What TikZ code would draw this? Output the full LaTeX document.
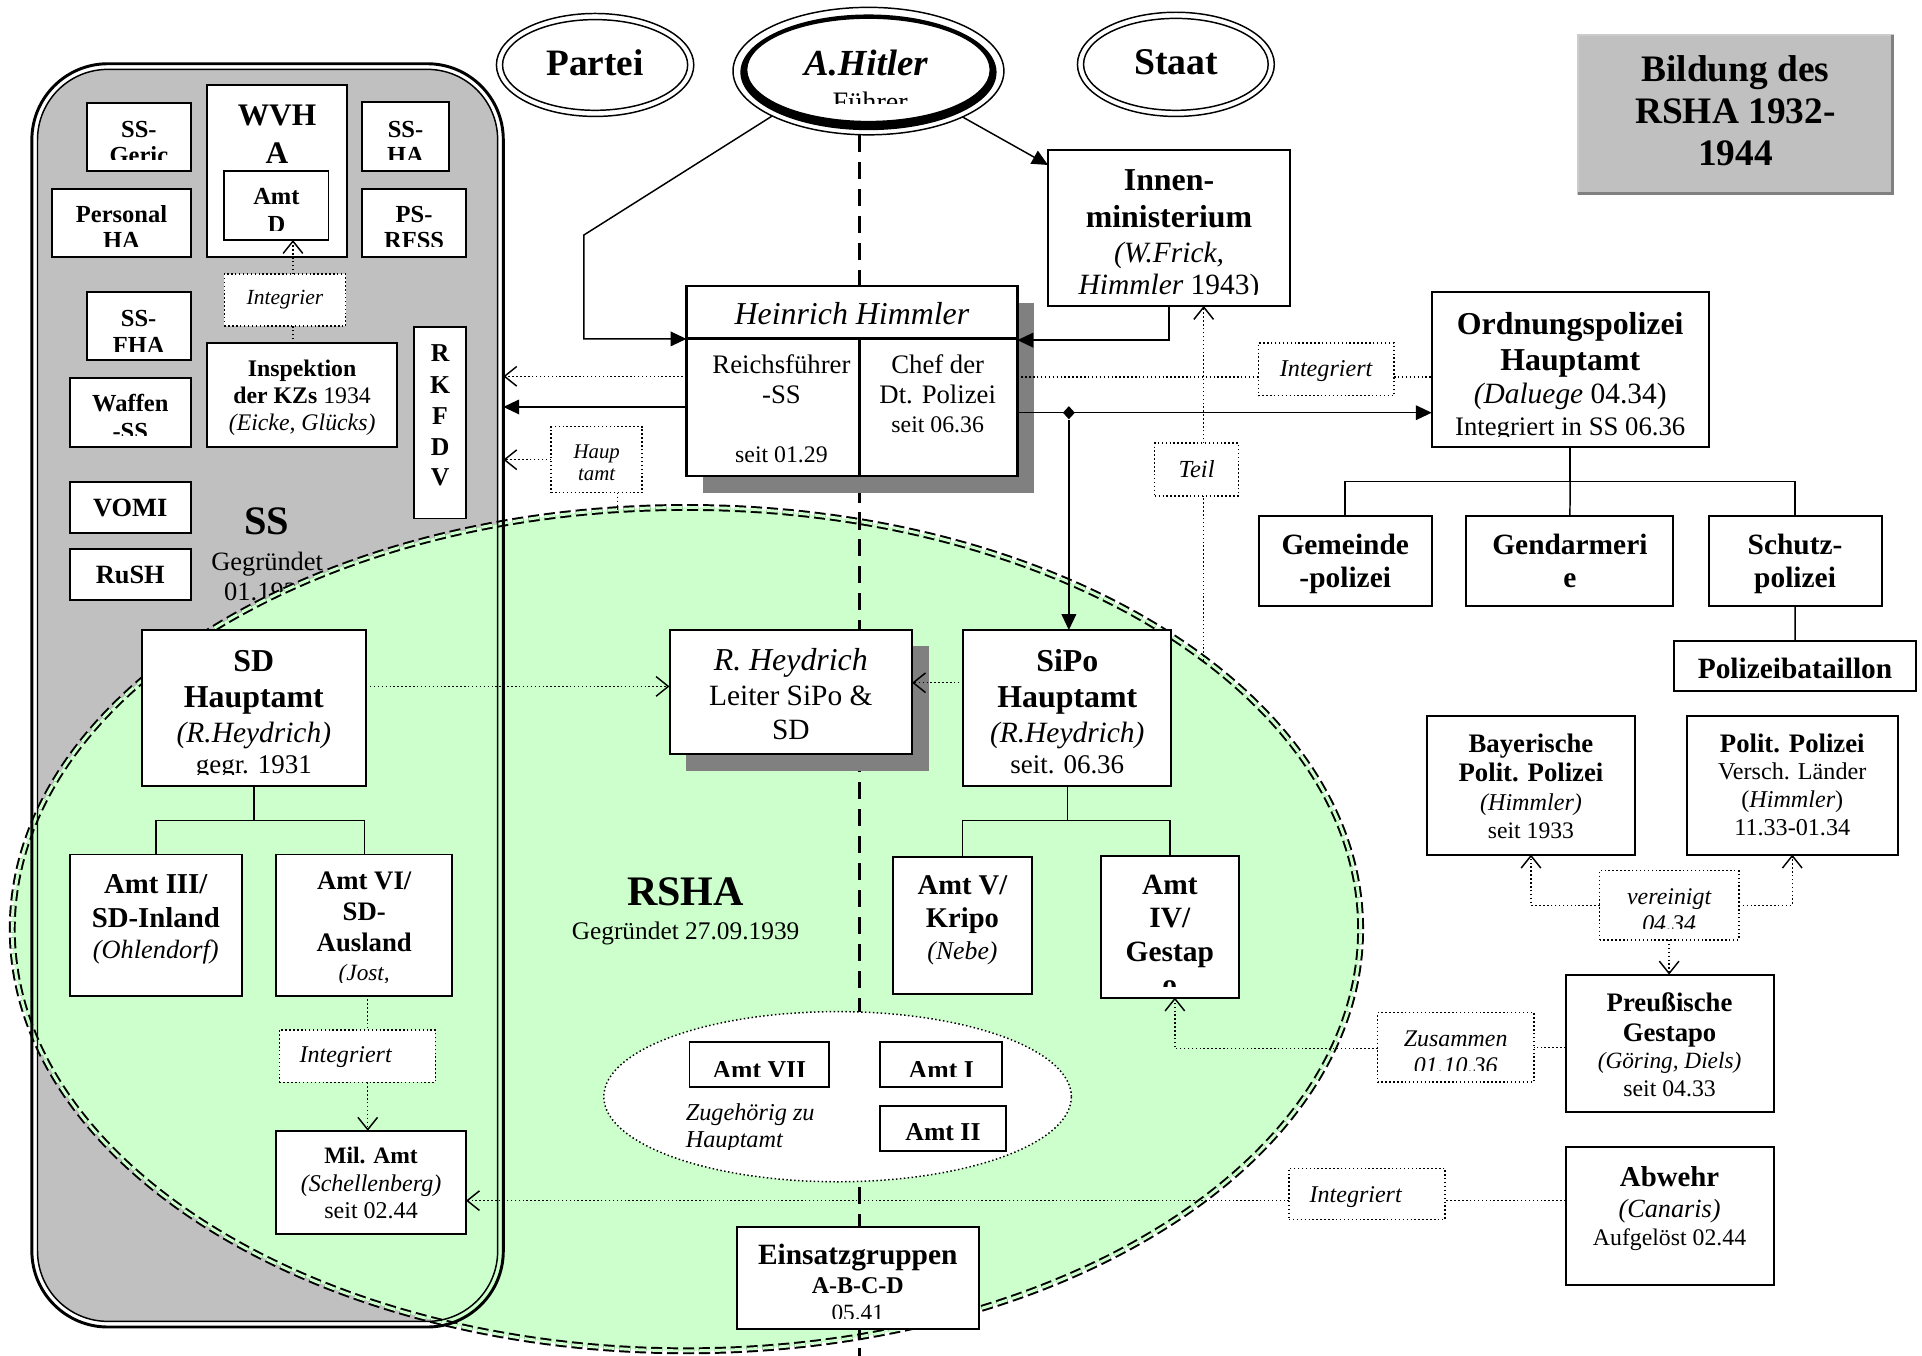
\documentclass[tikz,border=0pt]{standalone}
\usepackage{fontspec}
\setmainfont{Liberation Serif}
\usetikzlibrary{arrows.meta,shapes.geometric,fit,calc}
\definecolor{ssgray}{HTML}{C0C0C0}
\definecolor{rshagreen}{HTML}{CCFFCC}
\definecolor{shadowgray}{HTML}{808080}
\tikzset{
 box/.style={draw, line width=0.8pt, fill=white, inner sep=0pt, outer sep=0pt},
 lbox/.style={line width=0.6pt, densely dotted},
 arr/.style={line width=0.6pt, -{Triangle[length=6.5pt,width=6pt]}},
 darr/.style={line width=0.6pt, densely dotted, -{Straight Barb[length=5pt,width=8pt]}},
 dot/.style={line width=0.6pt, densely dotted},
 tree/.style={line width=0.6pt},
 vdash/.style={line width=1.4pt, dash pattern=on 7pt off 4pt},
 txt/.style={inner sep=0pt, outer sep=0pt},
}
\newcommand\Tb[2]{{\fontsize{#1}{#1}\selectfont\bfseries #2}}
\newcommand\Ti[2]{{\fontsize{#1}{#1}\selectfont\itshape #2}}
\newcommand\Tr[2]{{\fontsize{#1}{#1}\selectfont #2}}
\newcommand\Tbi[2]{{\fontsize{#1}{#1}\selectfont\bfseries\itshape #2}}
\newcommand\bx[8][]{%
  \node[box,fit={(#3,#4)(#5,#6)},#1] (#2) {};
  \pgfmathsetmacro\bxc{(#3+#5)/2}%
  \begin{scope}
    \clip (#3,#4) rectangle (#5,#7);
    #8
  \end{scope}}
\newcommand\tline[2]{\node[txt,anchor=base] at (\bxc,#1) {#2};}
\newcommand\tlinex[3]{\node[txt,anchor=base] at (#1,#2) {#3};}
\begin{document}
\begin{tikzpicture}[x=0.5pt,y=-0.5pt]
\useasboundingbox (0,0) rectangle (1568,1106);
\fill[white] (0,0) rectangle (1568,1106);

% ---------------- SS region (fill)
\node[fit={(26,52)(410.6,1082.6)}, inner sep=0pt, outer sep=0pt] (ssbox) {};
\fill[white, rounded corners=31pt] (26,52) rectangle (410.6,1082.6);
\fill[ssgray, rounded corners=28.7pt] (30.6,56.6) rectangle (406,1078);
\node[txt,anchor=base] (sslabel) at (217.6,436) {\Tb{16.5}{SS}};
\node[txt,anchor=base] (ssgeg) at (218,465.3) {\Tr{10.8}{Gegründet}};
\node[txt,anchor=base] (ssdate) at (218,489.6) {\Tr{10.8}{01.1932}};

% ---------------- RSHA ellipse
\node[ellipse, fill=rshagreen, draw, line width=0.8pt, double=rshagreen, double distance=1.2pt,
      dash pattern=on 4.5pt off 2pt, minimum width=550pt, minimum height=344pt, inner sep=0pt] (rsha) at (560,758) {};

% ---------------- SS region outlines
\draw[line width=1.2pt, rounded corners=31pt] (26,52) rectangle (410.6,1082.6);
\draw[line width=0.6pt, rounded corners=28.7pt] (30.6,56.6) rectangle (406,1078);

% ---------------- top ellipses
\node[ellipse, draw, line width=0.6pt, fill=white, minimum width=80.5pt, minimum height=42pt, inner sep=0pt, outer sep=0pt] (partei) at (485.5,53) {};
\draw[line width=0.6pt] (partei.center) ellipse [x radius=37.75pt, y radius=18.5pt];
\node[txt,anchor=base] at (485.3,61.2) {\Tb{15.2}{Partei}};

\node[ellipse, draw, line width=0.6pt, fill=white, minimum width=110.5pt, minimum height=52pt, inner sep=0pt, outer sep=0pt] (hitler) at (708.5,58) {};
\fill[even odd rule] (708.5,59) ellipse [x radius=52.25pt, y radius=23.6pt]
                     (708.5,57) ellipse [x radius=49.4pt, y radius=20.8pt];
\node[txt,anchor=base] at (706.4,61.2) {\Tbi{15}{A.Hitler}};
\begin{scope}
  \clip (600,0) rectangle (820,84.5);
  \node[txt,anchor=base] at (710,91) {\Tr{11.5}{Führer}};
\end{scope}

\node[ellipse, draw, line width=0.6pt, fill=white, minimum width=80.3pt, minimum height=42.5pt, inner sep=0pt, outer sep=0pt] (staat) at (959.3,52.5) {};
\draw[line width=0.6pt] (staat.center) ellipse [x radius=37.65pt, y radius=18.75pt];
\node[txt,anchor=base] at (959.5,60.4) {\Tb{15.4}{Staat}};

% ---------------- vertical dashed line
\coordinate (vx) at (701,0);
\coordinate (vend) at (701,1106);
\draw[vdash] (hitler.south -| vx) -- (vend);

% ---------------- Zugehoerig ellipse
\node[ellipse, draw, densely dotted, line width=0.6pt, fill=white, minimum width=190.7pt, minimum height=69.4pt, inner sep=0pt] (zug) at (683.3,894.7) {};
\node[txt,anchor=base west] (zugtxt) at (559.5,914.5) {\Ti{9.9}{Zugehörig zu}};
\begin{scope}
  \clip (550,918) rectangle (700,938);
  \node[txt,anchor=base west] (zugtxt2) at (559.5,936.5) {\Ti{9.9}{Hauptamt}};
\end{scope}

% ---------------- title
\bx[fill=ssgray,draw=gray!40]{title}{1287.5}{28.6}{1544}{158.1}{158.1}{%
  \tline{66.6}{\Tb{15.25}{Bildung des}}
  \tline{100.7}{\Tb{15.25}{RSHA 1932-}}
  \tline{135.4}{\Tb{15.25}{1944}}}
\draw[shadowgray, line width=1.2pt] (title.north east) -- (title.south east) -- (title.south west);

% ---------------- SS boxes
\bx{ssgeric}{71}{84}{155.6}{139.4}{130.5}{\tline{112}{\Tb{10}{SS-}}\tline{133}{\Tb{10}{Geric}}}
\bx{wvha}{169}{69}{283}{210}{210}{\tline{102}{\Tb{12.8}{WVH}}\tline{133}{\Tb{12.8}{A}}}
\bx{amtd}{183}{139.4}{268}{195.8}{188}{\tline{166.5}{\Tb{10}{Amt}}\tline{190}{\Tb{10}{D}}}
\bx{ssha}{295.6}{83.3}{366}{139.4}{130.5}{\tline{112}{\Tb{10}{SS-}}\tline{133}{\Tb{10}{HA}}}
\bx{personal}{42.7}{154}{155.6}{210}{201}{\tline{181.5}{\Tb{10}{Personal}}\tline{203}{\Tb{10}{HA}}}
\bx{psrfss}{295.6}{154}{380}{210}{201}{\tline{181.5}{\Tb{10}{PS-}}\tline{203}{\Tb{10}{RFSS}}}
\bx[lbox]{integrier}{183}{223.7}{282}{266}{266}{\tline{248.5}{\Ti{8.8}{Integrier}}}
\bx{ssfha}{70.7}{238}{155.6}{294}{286.5}{\tline{266.5}{\Tb{10}{SS-}}\tline{288.5}{\Tb{10}{FHA}}}
\bx{inspektion}{169}{280}{324}{364.5}{364.5}{%
  \tline{307.5}{\Tb{9.7}{Inspektion}}
  \tline{329}{\Tb{9.7}{der KZs}\Tr{9.7}{\ 1934}}
  \tline{351.5}{\Ti{9.7}{(Eicke, Glücks)}}}
\bx{rkfdv}{338}{266.5}{380}{423}{423}{%
  \tline{295}{\Tb{10.5}{R}}\tline{321}{\Tb{10.5}{K}}\tline{346.3}{\Tb{10.5}{F}}
  \tline{371.3}{\Tb{10.5}{D}}\tline{396.2}{\Tb{10.5}{V}}}
\bx{waffen}{57}{308}{155.6}{364.5}{355.5}{\tline{335.6}{\Tb{10}{Waffen}}\tline{358.5}{\Tb{10}{-SS}}}
\bx{vomi}{57}{393}{155.6}{434.5}{434.5}{\tline{421.5}{\Tb{10.75}{VOMI}}}
\bx{rush}{57}{448}{155.6}{489.6}{489.6}{\tline{475.8}{\Tb{10.75}{RuSH}}}

% ---------------- Himmler
\fill[shadowgray] (573.5,247) rectangle (843.5,402);
\bx[line width=1.1pt]{himmler}{560}{233.4}{830}{388.4}{388.4}{%
  \tline{265}{\Ti{13}{Heinrich Himmler}}
  \tlinex{637.5}{304.6}{\Tr{10.9}{Reichsführer}}
  \tlinex{637.5}{329}{\Tr{10.9}{-SS}}
  \tlinex{637.5}{377.5}{\Tr{9.7}{seit 01.29}}
  \tlinex{765}{304.6}{\Tr{10.9}{Chef der}}
  \tlinex{765}{329}{\Tr{10.9}{Dt. Polizei}}
  \tlinex{765}{353}{\Tr{9.7}{seit 06.36}}}
\coordinate (hh) at (0,276);
\draw[line width=1.1pt] (himmler.west |- hh) -- (himmler.east |- hh);
\draw[line width=1.1pt] (vx |- hh) -- (vx |- himmler.south);

\bx[lbox]{haup}{449.6}{348.1}{523.9}{402}{402}{%
  \tlinex{486.8}{374}{\Ti{8.5}{Haup}}\tlinex{486.8}{391.6}{\Ti{8.5}{tamt}}}

% ---------------- right upper
\bx{innen}{855}{122.6}{1052.4}{249.6}{240.5}{%
  \tline{155.6}{\Tb{13}{Innen-}}
  \tline{186}{\Tb{13}{ministerium}}
  \tline{214}{\Ti{12}{(W.Frick,}}
  \tline{240}{\Ti{12}{Himmler}\Tr{12}{\ 1943)}}}
\bx{ordnung}{1168}{237.9}{1394}{364.9}{356}{%
  \tline{272.7}{\Tb{13}{Ordnungspolizei}}
  \tline{302}{\Tb{13}{Hauptamt}}
  \tline{329.4}{\Ti{12}{(Daluege}\Tr{12}{\ 04.34)}}
  \tline{355}{\Tr{10.9}{Integriert in SS 06.36}}}
\bx[lbox]{integ1}{1026.5}{280}{1137.3}{322.8}{322.8}{\tline{307.5}{\Ti{9.85}{Integriert}}}
\bx[lbox]{teil}{942}{361.6}{1010.4}{404.5}{404.5}{\tline{389.8}{\Ti{10}{Teil}}}
\bx{gemeinde}{1026.9}{420.9}{1168}{494.1}{494.1}{\tline{452}{\Tb{12}{Gemeinde}}\tline{479.5}{\Tb{12}{-polizei}}}
\bx{gendarm}{1196.3}{420.9}{1365.2}{494.1}{494.1}{\tline{452}{\Tb{12}{Gendarmeri}}\tline{479.5}{\Tb{12}{e}}}
\bx{schutz}{1393.9}{420.9}{1535}{494.1}{494.1}{\tline{452}{\Tb{12}{Schutz-}}\tline{479.5}{\Tb{12}{polizei}}}
\bx{polbat}{1365.6}{522.7}{1563.2}{563.7}{563.7}{\tline{553.4}{\Tb{12}{Polizeibataillon}}}

% ---------------- center
\fill[shadowgray] (559.3,527) rectangle (758,628.7);
\bx{heydrich}{546.2}{514}{744.1}{615.2}{615.2}{%
  \tline{547}{\Ti{13}{R. Heydrich}}
  \tline{575.7}{\Tr{12}{Leiter SiPo \&}}
  \tline{603.4}{\Tr{12}{SD}}}
\bx{sipo}{785.9}{514}{955.5}{641}{641}{%
  \tline{548}{\Tb{13}{SiPo}}
  \tline{577.5}{\Tb{13}{Hauptamt}}
  \tline{606}{\Ti{12}{(R.Heydrich)}}
  \tline{631}{\Tr{11}{seit. 06.36}}}
\bx{sd}{115.6}{514}{298.6}{641}{632}{%
  \tline{548}{\Tb{13}{SD}}
  \tline{577.5}{\Tb{13}{Hauptamt}}
  \tline{606}{\Ti{12}{(R.Heydrich)}}
  \tline{631}{\Tr{11}{gegr. 1931}}}
\bx{amt3}{56.8}{697.1}{197.4}{812.2}{812.2}{%
  \tline{728.7}{\Tb{11.75}{Amt III/}}
  \tline{756.4}{\Tb{11.75}{SD-Inland}}
  \tline{782.1}{\Ti{10.75}{(Ohlendorf)}}}
\bx{amt6}{225.2}{697.1}{369.1}{812.2}{801.3}{%
  \tline{726}{\Tb{10.9}{Amt VI/}}
  \tline{751.3}{\Tb{10.9}{SD-}}
  \tline{776.2}{\Tb{10.9}{Ausland}}
  \tline{799.9}{\Ti{9.5}{(Jost,}}}
\bx[lbox]{integ2}{227.9}{840.3}{355.2}{883}{883}{\tlinex{282}{867.1}{\Ti{9.8}{Integriert}}}
\bx{milamt}{225.2}{922.5}{380.2}{1006.4}{1006.4}{%
  \tline{949}{\Tb{9.6}{Mil. Amt}}
  \tline{971.9}{\Ti{9.8}{(Schellenberg)}}
  \tline{993.7}{\Tr{9.8}{seit 02.44}}}
\bx{amtV}{728.6}{699}{841.8}{811}{811}{%
  \tline{729.9}{\Tb{11.65}{Amt V/}}
  \tline{757}{\Tb{11.65}{Kripo}}
  \tline{783}{\Ti{10.5}{(Nebe)}}}
\bx{amtIV}{897.9}{698.3}{1010.8}{813.8}{804.6}{%
  \tline{730}{\Tb{12}{Amt}}
  \tline{756.5}{\Tb{12}{IV/}}
  \tline{784}{\Tb{12}{Gestap}}
  \tline{811.5}{\Tb{12}{o}}}
\bx{amt7}{562.5}{850.3}{676.5}{887}{878.5}{\tline{880}{\Tb{10.5}{Amt VII}}}
\bx{amt1}{718.2}{850.3}{817.6}{887}{878.5}{\tline{880}{\Tb{10.5}{Amt I}}}
\bx{amt2}{718.2}{902.3}{820.4}{938.8}{938.8}{\tline{930.5}{\Tb{10.5}{Amt II}}}
\bx{einsatz}{601.1}{1000.7}{798.5}{1084.5}{1075.5}{%
  \tline{1031.5}{\Tb{12}{Einsatzgruppen}}
  \tline{1055}{\Tb{9.8}{A-B-C-D}}
  \tline{1077.5}{\Tr{9.5}{05.41}}}
\node[txt,anchor=base] (rshalabel) at (559.3,738.6) {\Tb{17.15}{RSHA}};
\node[txt,anchor=base] (rshageg) at (559.3,766.3) {\Tr{10.35}{Gegründet 27.09.1939}};

% ---------------- right lower
\bx{bayer}{1164}{584.1}{1334}{697.2}{697.2}{%
  \tline{614.1}{\Tb{10.9}{Bayerische}}
  \tline{637.8}{\Tb{10.9}{Polit. Polizei}}
  \tline{661.5}{\Ti{9.85}{(Himmler)}}
  \tline{683.7}{\Tr{9.65}{seit 1933}}}
\bx{politp}{1375.9}{584.1}{1548.4}{697.2}{697.2}{%
  \tline{614.1}{\Tb{10.9}{Polit. Polizei}}
  \tline{636}{\Tr{9.85}{Versch. Länder}}
  \tline{659}{\Tr{9.85}{(}\Ti{9.85}{Himmler}\Tr{9.85}{)}}
  \tline{681.3}{\Tr{9.85}{11.33-01.34}}}
\bx[lbox]{vereinigt}{1304.9}{710.3}{1418.5}{766.8}{757.5}{%
  \tline{737.8}{\Ti{9.75}{vereinigt}}
  \tline{760}{\Ti{9.75}{04.34}}}
\bx{preuss}{1277.2}{795.1}{1446.9}{907.5}{907.5}{%
  \tline{825.2}{\Tb{10.9}{Preußische}}
  \tline{849.9}{\Tb{10.9}{Gestapo}}
  \tline{871.8}{\Ti{9.5}{(Göring, Diels)}}
  \tline{894.8}{\Tr{9.7}{seit 04.33}}}
\bx[lbox]{zusammen}{1123.8}{826.2}{1251.3}{882.8}{873}{%
  \tline{853.4}{\Ti{9.75}{Zusammen}}
  \tline{875.5}{\Ti{9.75}{01.10.36}}}
\bx{abwehr}{1277.2}{935.8}{1446.9}{1048.6}{1048.6}{%
  \tline{967.6}{\Tb{11.75}{Abwehr}}
  \tline{993}{\Ti{10.7}{(Canaris)}}
  \tline{1016}{\Tr{9.7}{Aufgelöst 02.44}}}
\bx[lbox]{integ3}{1051.5}{953.1}{1178.9}{994.8}{994.8}{\tlinex{1106}{980.7}{\Ti{9.8}{Integriert}}}

% ---------------- connectors
\coordinate (b1) at (476.4,191.7);
\coordinate (b2) at (476.4,276.5);
\draw[arr] (hitler.205) -- (b1) -- (b2) -- (b2 -| himmler.west);
\draw[arr] (hitler.334) -- ($(innen.north west)+(0,12)$);
\draw[arr] (innen.south) |- (himmler.east |- 0,277.5);

\draw[darr] (himmler.west |- 0,307) -- (ssbox.east |- 0,307);
\draw[arr] (himmler.west |- 0,332) -- (ssbox.east |- 0,332);
\draw[darr] (haup.west) -- (haup.west -| ssbox.east);
\draw[dot] ($(haup.south)+(17,0)$) -- ++(0,14);

\draw[dot] (himmler.east |- 0,307.5) -- (integ1.west |- 0,307.5);
\draw[dot] (integ1.east |- 0,307.5) -- (ordnung.west |- 0,307.5);
\draw[arr] (himmler.east |- 0,336.7) -- (ordnung.west |- 0,336.7);
\node[diamond, fill, inner sep=0pt, minimum width=5pt, minimum height=5.5pt] (dia) at (872,336.7) {};
\draw[arr] (dia) -- (dia |- sipo.north);

\coordinate (tl0) at (982,539);
\draw[dot] (tl0) -- (tl0 |- teil.south);
\draw[darr] (tl0 |- teil.north) -- (tl0 |- innen.south);

\coordinate (oj) at ($(ordnung.south)+(0,28)$);
\draw[tree] (ordnung.south) -- (oj);
\draw[tree] (gemeinde.north) |- (oj) -| (schutz.north);
\draw[tree] (oj) -- (gendarm.north);
\draw[tree] (schutz.south) -- (polbat.north);

\coordinate (sdj) at ($(sd.south)+(0,28.5)$);
\draw[tree] (sd.south) -- (sdj);
\draw[tree] (amt3.north) |- (sdj) -| (amt6.north);
\coordinate (spj) at ($(sipo.south)+(0,28.5)$);
\draw[tree] (sipo.south) -- (spj);
\draw[tree] (amtV.north) |- (spj) -| (amtIV.north);

\draw[darr] (sd.east |- 0,560) -- (heydrich.west |- 0,560);
\draw[darr] (sipo.west |- 0,557) -- (heydrich.east |- 0,557);

\coordinate (ax) at (300,0);
\draw[dot] (amt6.south -| ax) -- (integ2.north -| ax);
\draw[darr] (integ2.south -| ax) -- (milamt.north -| ax);

\draw[dot] (abwehr.west |- 0,979.5) -- (integ3.east |- 0,979.5);
\draw[darr] (integ3.west |- 0,979.5) -- (milamt.east |- 0,979.5);

\coordinate (gx) at (958.5,0);
\draw[dot] (preuss.west |- 0,854.5) -- (zusammen.east |- 0,854.5);
\draw[darr] (zusammen.west |- 0,855.5) -| (amtIV.south -| gx);

\draw[darr] (vereinigt.west) -| (bayer.south);
\draw[darr] (vereinigt.east) -| (politp.south);
\draw[darr] (vereinigt.south) -- (vereinigt.south |- preuss.north);

\coordinate (ix) at (239,0);
\draw[dot] (inspektion.north -| ix) -- (integrier.south -| ix);
\draw[darr] (integrier.north -| ix) -- (amtd.south -| ix);
\end{tikzpicture}
\end{document}
